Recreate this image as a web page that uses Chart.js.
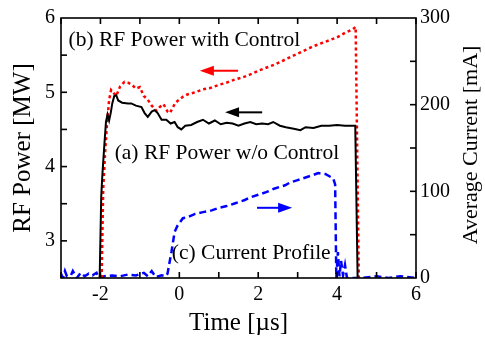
<!DOCTYPE html>
<html>
<head>
<meta charset="utf-8">
<script src="https://cdn.jsdelivr.net/npm/chart.js@4.4.1/dist/chart.umd.min.js"></script>
<style>
  body { margin: 0; background: #fff; }
  #wrap { width: 485px; height: 338px; }
</style>
</head>
<body>
<div id="wrap"><canvas id="chart"></canvas></div>
<script>
// time axis [us]
var xTicks = [-2, 0, 2, 4, 6];
var powerTicks = [3, 4, 5, 6];
var currentTicks = [0, 100, 200, 300];

// (a) RF power without control [MW]
var blackT = [-2.02, -1.98, -1.95, -1.9, -1.86, -1.82, -1.78, -1.74, -1.7, -1.65, -1.6, -1.55, -1.45, -1.3, -1.22, -1.1, -0.96, -0.88, -0.8, -0.7, -0.63, -0.55, -0.45, -0.33, -0.22, -0.12, -0.04, 0.05, 0.15, 0.3, 0.45, 0.6, 0.75, 0.9, 1.05, 1.2, 1.35, 1.5, 1.65, 1.8, 1.95, 2.1, 2.25, 2.38, 2.55, 2.7, 2.9, 3.07, 3.2, 3.4, 3.6, 3.8, 4.0, 4.2, 4.46, 4.52];
var blackP = [2.5, 3.6, 3.9, 4.3, 4.6, 4.7, 4.62, 4.72, 4.85, 4.95, 4.96, 4.89, 4.86, 4.85, 4.85, 4.82, 4.8, 4.72, 4.67, 4.74, 4.76, 4.72, 4.63, 4.63, 4.58, 4.6, 4.53, 4.5, 4.55, 4.56, 4.6, 4.63, 4.58, 4.62, 4.57, 4.59, 4.58, 4.55, 4.58, 4.6, 4.57, 4.58, 4.57, 4.6, 4.55, 4.53, 4.51, 4.49, 4.53, 4.52, 4.55, 4.55, 4.56, 4.55, 4.55, 2.5];

// (b) RF power with control [MW]
var redT = [-1.97, -1.93, -1.88, -1.83, -1.78, -1.73, -1.68, -1.6, -1.5, -1.39, -1.3, -1.2, -1.1, -1.0, -0.9, -0.8, -0.7, -0.58, -0.5, -0.4, -0.3, -0.24, -0.1, 0.09, 0.2, 0.4, 0.6, 0.8, 1.0, 1.2, 1.4, 1.6, 1.8, 2.0, 2.2, 2.4, 2.6, 2.8, 3.0, 3.2, 3.4, 3.6, 3.8, 4.0, 4.2, 4.4, 4.47, 4.55];
var redP = [2.5, 3.7, 4.2, 4.6, 4.9, 5.03, 5.0, 4.95, 5.08, 5.14, 5.13, 5.1, 5.05, 5.07, 4.95, 4.9, 4.82, 4.75, 4.8, 4.84, 4.74, 4.72, 4.86, 4.94, 4.97, 5.0, 5.04, 5.06, 5.1, 5.13, 5.17, 5.2, 5.24, 5.29, 5.33, 5.37, 5.42, 5.47, 5.52, 5.57, 5.62, 5.66, 5.7, 5.74, 5.8, 5.85, 5.88, 2.5];

// (c) average beam current [mA]
var blueT = [-3, -2.95, -2.9, -2.85, -2.75, -2.7, -2.6, -2.5, -2.4, -2.3, -2.2, -2.1, -2.05, -1.9, -1.7, -1.5, -1.3, -1.1, -0.9, -0.8, -0.7, -0.6, -0.45, -0.35, -0.3, -0.2, -0.12, -0.05, 0.09, 0.2, 0.4, 0.6, 0.82, 1.0, 1.2, 1.4, 1.66, 1.8, 2.0, 2.2, 2.4, 2.68, 2.8, 3.0, 3.2, 3.4, 3.52, 3.7, 3.9, 3.95, 3.98, 4.02, 4.06, 4.1, 4.15, 4.2, 4.25, 4.35, 4.6, 5.0, 5.3, 5.6, 6.0];
var blueI = [5, 0, 8, 2, 3, 8, 0, 6, 2, 5, 3, 6, 0, 2, 3, 2, 4, 3, 6, 2, 8, 1, 3, 2, 5, 30, 53, 60, 69, 70, 74, 76, 78, 81, 83, 86, 90, 93, 96, 99, 103, 107, 110, 113, 116, 119, 121, 120, 115, 108, 0, 30, 2, 20, 3, 15, 0, 0, 0, 2, 0, 2, 0];

function pts(xs, ys) {
  return xs.map(function(v, i) { return {x: v, y: ys[i]}; });
}

var serif = '"Liberation Serif", "Times New Roman", serif';

// labels and arrows drawn in data units
var notes = [
  {text: '(b) RF Power with Control', x: -2.81, y: 5.7, axis: 'y'},
  {text: '(a) RF Power w/o Control', x: -1.64, y: 4.18, axis: 'y'},
  {text: '(c) Current Profile', x: -0.19, y: 28, axis: 'y1'}
];
var arrows = [
  {from: 1.49, to: 0.52, y: 5.29, axis: 'y', color: '#ff0000'},
  {from: 2.1, to: 1.16, y: 4.73, axis: 'y', color: '#000000'},
  {from: 1.97, to: 2.86, y: 81, axis: 'y1', color: '#0000ff'}
];

var framePlugin = {
  id: 'frame',
  afterDraw: function(chart) {
    var ctx = chart.ctx;
    var a = chart.chartArea;
    var sx = chart.scales.x, sy = chart.scales.y, sy1 = chart.scales.y1;
    ctx.save();

    // annotations
    ctx.fillStyle = '#000';
    ctx.font = '21.5px ' + serif;
    ctx.textBaseline = 'middle';
    ctx.textAlign = 'left';
    notes.forEach(function(n) {
      var s = n.axis === 'y' ? sy : sy1;
      ctx.fillText(n.text, sx.getPixelForValue(n.x), s.getPixelForValue(n.y));
    });
    arrows.forEach(function(ar) {
      var s = ar.axis === 'y' ? sy : sy1;
      var x0 = sx.getPixelForValue(ar.from), x1 = sx.getPixelForValue(ar.to);
      var yy = s.getPixelForValue(ar.y);
      var dir = x1 > x0 ? 1 : -1;
      ctx.strokeStyle = ar.color;
      ctx.fillStyle = ar.color;
      ctx.lineWidth = 2;
      ctx.setLineDash([]);
      ctx.beginPath();
      ctx.moveTo(x0, yy);
      ctx.lineTo(x1 - dir * 10, yy);
      ctx.stroke();
      ctx.beginPath();
      ctx.moveTo(x1, yy);
      ctx.lineTo(x1 - dir * 14, yy - 5);
      ctx.lineTo(x1 - dir * 14, yy + 5);
      ctx.closePath();
      ctx.fill();
    });

    // box and inward ticks
    ctx.strokeStyle = '#000';
    ctx.fillStyle = '#000';
    ctx.lineWidth = 1.6;
    ctx.strokeRect(a.left, a.top, a.right - a.left, a.bottom - a.top);
    var tl = 6, tw = 1.6;
    for (var t = -3; t <= 6; t++) {
      var px = sx.getPixelForValue(t);
      ctx.fillRect(px - tw / 2, a.bottom - tl, tw, tl);
      ctx.fillRect(px - tw / 2, a.top, tw, tl);
    }
    for (var p = 3; p <= 5.5; p += 0.5) {
      var py = sy.getPixelForValue(p);
      ctx.fillRect(a.left, py - tw / 2, tl, tw);
    }
    for (var c = 50; c <= 250; c += 50) {
      var pc = sy1.getPixelForValue(c);
      ctx.fillRect(a.right - tl, pc - tw / 2, tl, tw);
    }

    // right title, reading bottom to top
    ctx.font = '22px ' + serif;
    ctx.textAlign = 'center';
    ctx.translate(471, (a.top + a.bottom) / 2 - 3);
    ctx.rotate(-Math.PI / 2);
    ctx.fillText('Average Current [mA]', 0, 0);
    ctx.restore();
  }
};

function setTicks(list) {
  return function(scale) {
    scale.ticks = list.map(function(v) { return {value: v}; });
  };
}

new Chart(document.getElementById('chart'), {
  type: 'line',
  data: {
    datasets: [
      {
        label: 'RF Power w/o Control',
        data: pts(blackT, blackP),
        borderColor: '#000',
        borderWidth: 2,
        yAxisID: 'y'
      },
      {
        label: 'RF Power with Control',
        data: pts(redT, redP),
        borderColor: '#ff0000',
        borderWidth: 2.5,
        borderDash: [3, 3],
        yAxisID: 'y'
      },
      {
        label: 'Current Profile',
        data: pts(blueT, blueI),
        borderColor: '#0000ff',
        borderWidth: 2.5,
        borderDash: [7, 4],
        yAxisID: 'y1'
      }
    ]
  },
  options: {
    responsive: true,
    maintainAspectRatio: false,
    animation: false,
    layout: { padding: { top: 18, right: 0, left: 0, bottom: 0 } },
    elements: { point: { radius: 0 }, line: { tension: 0 } },
    plugins: { legend: { display: false }, tooltip: { enabled: false } },
    scales: {
      x: {
        type: 'linear',
        min: -3,
        max: 6,
        afterBuildTicks: setTicks(xTicks),
        afterFit: function(s) { s.height = 60; },
        grid: { display: false, drawTicks: false },
        border: { display: false },
        ticks: { color: '#000', padding: 5, maxRotation: 0, font: { family: serif, size: 20 } },
        title: { display: true, text: 'Time [µs]', color: '#000', padding: { top: 2, bottom: 0 }, font: { family: serif, size: 25 } }
      },
      y: {
        position: 'left',
        min: 2.5,
        max: 6,
        afterBuildTicks: setTicks(powerTicks),
        afterFit: function(s) { s.width = 61; },
        grid: { display: false, drawTicks: false },
        border: { display: false },
        ticks: { color: '#000', padding: 6, font: { family: serif, size: 20 } },
        title: { display: true, text: 'RF Power [MW]', color: '#000', padding: { top: 8, bottom: 0 }, font: { family: serif, size: 25 } }
      },
      y1: {
        position: 'right',
        min: 0,
        max: 300,
        afterBuildTicks: setTicks(currentTicks),
        afterFit: function(s) { s.width = 69; },
        grid: { display: false, drawTicks: false },
        border: { display: false },
        ticks: { color: '#000', padding: 4, font: { family: serif, size: 20 } }
      }
    }
  },
  plugins: [framePlugin]
});
</script>
</body>
</html>
